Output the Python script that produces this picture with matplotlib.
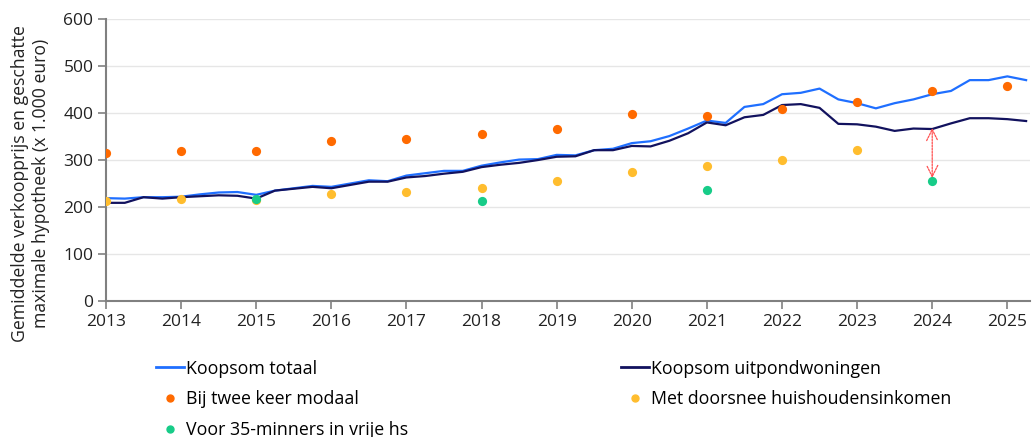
import numpy as np
import matplotlib
matplotlib.use("Agg")
import matplotlib.pyplot as plt
from matplotlib.lines import Line2D

plt.rcParams['font.family'] = ['Open Sans', 'DejaVu Sans']

# Quarterly series, 2013 Q1 .. 2025 Q2 (x 1.000 euro)
start_year = 2013
koopsom_totaal = [
    219, 218, 221, 221, 222, 227, 231, 232, 226, 235, 240, 245,
    243, 250, 257, 255, 267, 272, 277, 277, 288, 295, 301, 302,
    311, 310, 321, 324, 336, 340, 351, 367, 384, 379, 413, 419,
    440, 443, 452, 429, 421, 410, 421, 429, 440, 447, 470, 470,
    478, 470,
]
koopsom_uitpond = [
    209, 209, 221, 218, 221, 223, 225, 224, 218, 235, 239, 243,
    240, 247, 254, 254, 263, 266, 271, 275, 285, 290, 294, 300,
    307, 308, 321, 321, 330, 329, 341, 357, 380, 374, 391, 396,
    417, 419, 411, 377, 376, 371, 362, 367, 366, 378, 389, 389,
    387, 383,
]

# Annual estimates of the maximum mortgage
jaren = [2013, 2014, 2015, 2016, 2017, 2018, 2019, 2020, 2021, 2022, 2023, 2024, 2025]
twee_keer_modaal = [316, 320, 320, 341, 345, 355, 366, 399, 394, 408, 423, 447, 457]
jaren_doorsnee = [2013, 2014, 2015, 2016, 2017, 2018, 2019, 2020, 2021, 2022, 2023]
doorsnee_inkomen = [213, 218, 214, 227, 231, 241, 255, 274, 287, 301, 321]
jaren_35min = [2015, 2018, 2021, 2024]
voor_35_minners = [217, 213, 236, 255]

c_totaal = '#1f6fff'
c_uitpond = '#12125e'
c_modaal = '#ff6a00'
c_doorsnee = '#ffbd2e'
c_35min = '#17cc88'

kwartalen = start_year + 0.25 * np.arange(len(koopsom_totaal))

fig = plt.figure(figsize=(10.34, 4.37), dpi=100)
ax = fig.add_axes([0.1025, 0.311, 0.8935, 0.6455])

ax.plot(kwartalen, koopsom_totaal, color=c_totaal, lw=1.6, zorder=3)
ax.plot(kwartalen, koopsom_uitpond, color=c_uitpond, lw=1.6, zorder=3)
ms = 44
ax.scatter(jaren, twee_keer_modaal, s=ms, color=c_modaal, zorder=4, linewidths=0)
ax.scatter(jaren_doorsnee, doorsnee_inkomen, s=ms, color=c_doorsnee, zorder=4, linewidths=0)
ax.scatter(jaren_35min, voor_35_minners, s=ms, color=c_35min, zorder=5, linewidths=0)

# Gap between sale price and what a young buyer can borrow in 2024
i24 = list(kwartalen).index(2024.0)
ax.annotate('', xy=(2024, voor_35_minners[-1] + 7), xytext=(2024, koopsom_uitpond[i24] + 2),
            arrowprops=dict(arrowstyle='<->', color='#ff5050', lw=0.9,
                            linestyle=(0, (1.5, 1)), mutation_scale=20, shrinkA=0, shrinkB=0),
            zorder=6)

ax.set_xlim(2013, 2025.3)
ax.set_ylim(0, 600)
ax.set_yticks(range(0, 601, 100))
ax.set_xticks(range(2013, 2026))
ax.grid(axis='y', color='#e6e6e6', lw=1)
ax.set_axisbelow(True)
for s in ['top', 'right']:
    ax.spines[s].set_visible(False)
for s in ['left', 'bottom']:
    ax.spines[s].set_color('#808080')
    ax.spines[s].set_linewidth(1.5)
ax.tick_params(axis='both', colors='#808080', labelcolor='#222222', labelsize=12.5,
               direction='out', length=6, width=1.2)
ax.tick_params(axis='x', pad=3)
ax.tick_params(axis='y', pad=3)

fig.text(0.0297, 0.581, 'Gemiddelde verkoopprijs en geschatte\nmaximale hypotheek (x 1.000 euro)',
         rotation=90, ha='center', va='center', multialignment='center',
         fontsize=12.7, color='#222222', linespacing=1.25)

handles = [
    Line2D([], [], color=c_totaal, lw=2),
    Line2D([], [], marker='o', ls='', color=c_modaal, markersize=5),
    Line2D([], [], marker='o', ls='', color=c_35min, markersize=5),
    Line2D([], [], color=c_uitpond, lw=2),
    Line2D([], [], marker='o', ls='', color=c_doorsnee, markersize=5),
]
labels = ['Koopsom totaal', 'Bij twee keer modaal', 'Voor 35-minners in vrije hs',
          'Koopsom uitpondwoningen', 'Met doorsnee huishoudensinkomen']
fig.legend(handles, labels, ncol=2, loc='upper left', bbox_to_anchor=(0.151, 0.177),
           frameon=False, fontsize=12.8, handlelength=1.55, handletextpad=0.12,
           columnspacing=12.0, labelspacing=0.72, borderaxespad=0, borderpad=0)

fig.savefig('out.png', dpi=100)
